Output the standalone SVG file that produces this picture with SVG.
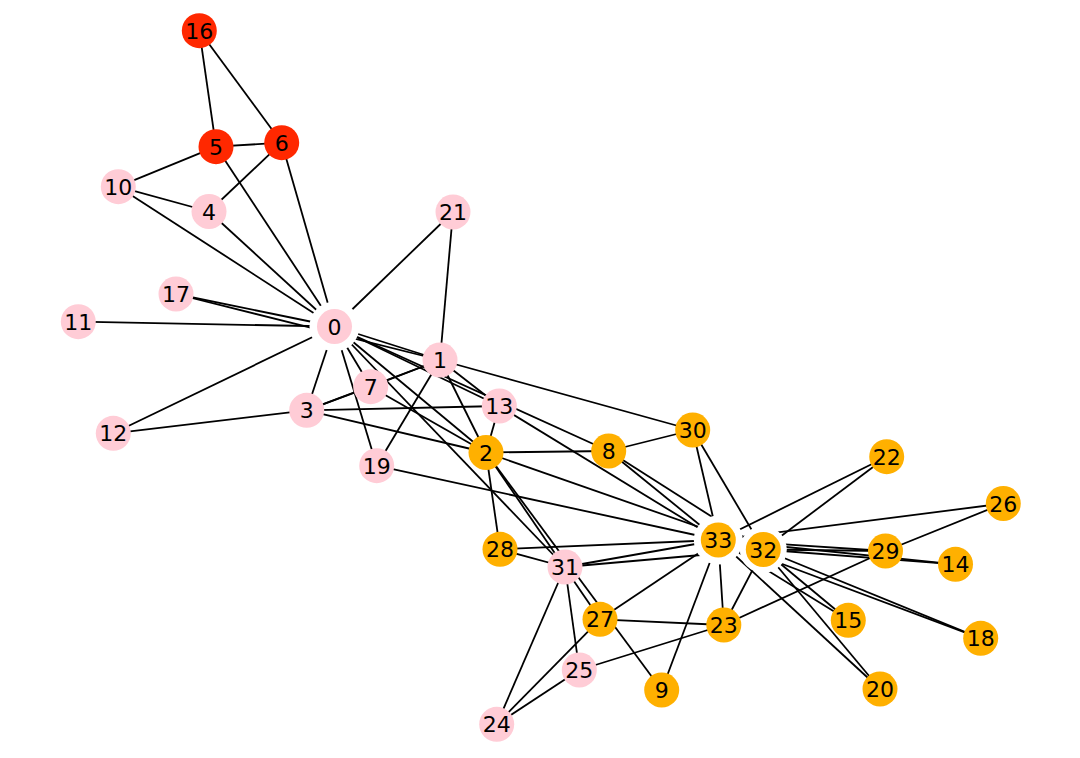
<svg xmlns="http://www.w3.org/2000/svg" width="1080" height="758" viewBox="0 0 1080 758">
<style>
.e line{stroke:#000;stroke-width:1.8;stroke-linecap:butt}
.halo{fill:#fff}
.n circle{stroke:none}
.p{fill:#FFCCD6}
.o{fill:#FFB000}
.r{fill:#FF2800}
.n text{font-family:"DejaVu Sans",sans-serif;font-size:22px;fill:#000;text-anchor:middle}
</style>
<rect width="1080" height="758" fill="#fff"/>
<g id="edges" class="e">
<line x1="334.5" y1="326.5" x2="440" y2="360"/>
<line x1="334.5" y1="326.5" x2="486" y2="452.5"/>
<line x1="334.5" y1="326.5" x2="306.7" y2="410.3"/>
<line x1="334.5" y1="326.5" x2="209" y2="211.5"/>
<line x1="334.5" y1="326.5" x2="216" y2="146.7"/>
<line x1="334.5" y1="326.5" x2="281.7" y2="142.7"/>
<line x1="334.5" y1="326.5" x2="370.7" y2="386.7"/>
<line x1="334.5" y1="326.5" x2="608.7" y2="451"/>
<line x1="334.5" y1="326.5" x2="118.3" y2="186.7"/>
<line x1="334.5" y1="326.5" x2="78.3" y2="321.7"/>
<line x1="334.5" y1="326.5" x2="113.3" y2="433.3"/>
<line x1="334.5" y1="326.5" x2="499.3" y2="406"/>
<line x1="334.5" y1="326.5" x2="176" y2="294"/>
<line x1="334.5" y1="326.5" x2="376.7" y2="465.7"/>
<line x1="334.5" y1="326.5" x2="453" y2="212"/>
<line x1="334.5" y1="326.5" x2="565" y2="567"/>
<line x1="440" y1="360" x2="486" y2="452.5"/>
<line x1="440" y1="360" x2="306.7" y2="410.3"/>
<line x1="440" y1="360" x2="370.7" y2="386.7"/>
<line x1="440" y1="360" x2="499.3" y2="406"/>
<line x1="440" y1="360" x2="176" y2="294"/>
<line x1="440" y1="360" x2="376.7" y2="465.7"/>
<line x1="440" y1="360" x2="453" y2="212"/>
<line x1="440" y1="360" x2="692.7" y2="430"/>
<line x1="486" y1="452.5" x2="306.7" y2="410.3"/>
<line x1="486" y1="452.5" x2="370.7" y2="386.7"/>
<line x1="486" y1="452.5" x2="608.7" y2="451"/>
<line x1="486" y1="452.5" x2="661.7" y2="690"/>
<line x1="486" y1="452.5" x2="499.3" y2="406"/>
<line x1="486" y1="452.5" x2="600" y2="619.3"/>
<line x1="486" y1="452.5" x2="500" y2="549.3"/>
<line x1="486" y1="452.5" x2="763.3" y2="549.5"/>
<line x1="306.7" y1="410.3" x2="370.7" y2="386.7"/>
<line x1="306.7" y1="410.3" x2="113.3" y2="433.3"/>
<line x1="306.7" y1="410.3" x2="499.3" y2="406"/>
<line x1="209" y1="211.5" x2="281.7" y2="142.7"/>
<line x1="209" y1="211.5" x2="118.3" y2="186.7"/>
<line x1="216" y1="146.7" x2="281.7" y2="142.7"/>
<line x1="216" y1="146.7" x2="118.3" y2="186.7"/>
<line x1="216" y1="146.7" x2="199.3" y2="30.7"/>
<line x1="281.7" y1="142.7" x2="199.3" y2="30.7"/>
<line x1="608.7" y1="451" x2="692.7" y2="430"/>
<line x1="608.7" y1="451" x2="763.3" y2="549.5"/>
<line x1="608.7" y1="451" x2="718.3" y2="540"/>
<line x1="661.7" y1="690" x2="718.3" y2="540"/>
<line x1="499.3" y1="406" x2="718.3" y2="540"/>
<line x1="955.5" y1="564.3" x2="763.3" y2="549.5"/>
<line x1="955.5" y1="564.3" x2="718.3" y2="540"/>
<line x1="848.3" y1="620.3" x2="763.3" y2="549.5"/>
<line x1="848.3" y1="620.3" x2="718.3" y2="540"/>
<line x1="980.7" y1="638.3" x2="763.3" y2="549.5"/>
<line x1="980.7" y1="638.3" x2="718.3" y2="540"/>
<line x1="376.7" y1="465.7" x2="718.3" y2="540"/>
<line x1="880" y1="689" x2="763.3" y2="549.5"/>
<line x1="880" y1="689" x2="718.3" y2="540"/>
<line x1="886.7" y1="456.7" x2="763.3" y2="549.5"/>
<line x1="886.7" y1="456.7" x2="718.3" y2="540"/>
<line x1="723.8" y1="625" x2="579.3" y2="670"/>
<line x1="723.8" y1="625" x2="600" y2="619.3"/>
<line x1="723.8" y1="625" x2="885.5" y2="551"/>
<line x1="723.8" y1="625" x2="763.3" y2="549.5"/>
<line x1="723.8" y1="625" x2="718.3" y2="540"/>
<line x1="496.7" y1="724.3" x2="579.3" y2="670"/>
<line x1="496.7" y1="724.3" x2="600" y2="619.3"/>
<line x1="496.7" y1="724.3" x2="565" y2="567"/>
<line x1="579.3" y1="670" x2="565" y2="567"/>
<line x1="1003.3" y1="503.5" x2="885.5" y2="551"/>
<line x1="1003.3" y1="503.5" x2="718.3" y2="540"/>
<line x1="600" y1="619.3" x2="718.3" y2="540"/>
<line x1="500" y1="549.3" x2="565" y2="567"/>
<line x1="500" y1="549.3" x2="718.3" y2="540"/>
<line x1="885.5" y1="551" x2="763.3" y2="549.5"/>
<line x1="885.5" y1="551" x2="718.3" y2="540"/>
<line x1="692.7" y1="430" x2="763.3" y2="549.5"/>
<line x1="692.7" y1="430" x2="718.3" y2="540"/>
<line x1="565" y1="567" x2="763.3" y2="549.5"/>
<line x1="565" y1="567" x2="718.3" y2="540"/>
<line x1="763.3" y1="549.5" x2="718.3" y2="540"/>
</g>
<g id="halos">
<circle class="halo" cx="334.5" cy="326.5" r="25"/>
<circle class="halo" cx="718.3" cy="540" r="24.5"/>
<circle class="halo" cx="763.3" cy="549.5" r="23.5"/>
</g>
<g id="node0" class="n"><circle class="p" cx="334.5" cy="326.5" r="17.5"/><text x="334.5" y="334.5">0</text></g>
<g id="node1" class="n"><circle class="p" cx="440" cy="360" r="17.5"/><text x="440" y="368">1</text></g>
<g id="node2" class="n"><circle class="o" cx="486" cy="452.5" r="17.5"/><text x="486" y="460.5">2</text></g>
<g id="node3" class="n"><circle class="p" cx="306.7" cy="410.3" r="17.5"/><text x="306.7" y="418.3">3</text></g>
<g id="node4" class="n"><circle class="p" cx="209" cy="211.5" r="17.5"/><text x="209" y="219.5">4</text></g>
<g id="node5" class="n"><circle class="r" cx="216" cy="146.7" r="17.5"/><text x="216" y="154.7">5</text></g>
<g id="node6" class="n"><circle class="r" cx="281.7" cy="142.7" r="17.5"/><text x="281.7" y="150.7">6</text></g>
<g id="node7" class="n"><circle class="p" cx="370.7" cy="386.7" r="17.5"/><text x="370.7" y="394.7">7</text></g>
<g id="node8" class="n"><circle class="o" cx="608.7" cy="451" r="17.5"/><text x="608.7" y="459">8</text></g>
<g id="node9" class="n"><circle class="o" cx="661.7" cy="690" r="17.5"/><text x="661.7" y="698">9</text></g>
<g id="node10" class="n"><circle class="p" cx="118.3" cy="186.7" r="17.5"/><text x="118.3" y="194.7">10</text></g>
<g id="node11" class="n"><circle class="p" cx="78.3" cy="321.7" r="17.5"/><text x="78.3" y="329.7">11</text></g>
<g id="node12" class="n"><circle class="p" cx="113.3" cy="433.3" r="17.5"/><text x="113.3" y="441.3">12</text></g>
<g id="node13" class="n"><circle class="p" cx="499.3" cy="406" r="17.5"/><text x="499.3" y="414">13</text></g>
<g id="node14" class="n"><circle class="o" cx="955.5" cy="564.3" r="17.5"/><text x="955.5" y="572.3">14</text></g>
<g id="node15" class="n"><circle class="o" cx="848.3" cy="620.3" r="17.5"/><text x="848.3" y="628.3">15</text></g>
<g id="node16" class="n"><circle class="r" cx="199.3" cy="30.7" r="17.5"/><text x="199.3" y="38.7">16</text></g>
<g id="node17" class="n"><circle class="p" cx="176" cy="294" r="17.5"/><text x="176" y="302">17</text></g>
<g id="node18" class="n"><circle class="o" cx="980.7" cy="638.3" r="17.5"/><text x="980.7" y="646.3">18</text></g>
<g id="node19" class="n"><circle class="p" cx="376.7" cy="465.7" r="17.5"/><text x="376.7" y="473.7">19</text></g>
<g id="node20" class="n"><circle class="o" cx="880" cy="689" r="17.5"/><text x="880" y="697">20</text></g>
<g id="node21" class="n"><circle class="p" cx="453" cy="212" r="17.5"/><text x="453" y="220">21</text></g>
<g id="node22" class="n"><circle class="o" cx="886.7" cy="456.7" r="17.5"/><text x="886.7" y="464.7">22</text></g>
<g id="node23" class="n"><circle class="o" cx="723.8" cy="625" r="17.5"/><text x="723.8" y="633">23</text></g>
<g id="node24" class="n"><circle class="p" cx="496.7" cy="724.3" r="17.5"/><text x="496.7" y="732.3">24</text></g>
<g id="node25" class="n"><circle class="p" cx="579.3" cy="670" r="17.5"/><text x="579.3" y="678">25</text></g>
<g id="node26" class="n"><circle class="o" cx="1003.3" cy="503.5" r="17.5"/><text x="1003.3" y="511.5">26</text></g>
<g id="node27" class="n"><circle class="o" cx="600" cy="619.3" r="17.5"/><text x="600" y="627.3">27</text></g>
<g id="node28" class="n"><circle class="o" cx="500" cy="549.3" r="17.5"/><text x="500" y="557.3">28</text></g>
<g id="node29" class="n"><circle class="o" cx="885.5" cy="551" r="17.5"/><text x="885.5" y="559">29</text></g>
<g id="node30" class="n"><circle class="o" cx="692.7" cy="430" r="17.5"/><text x="692.7" y="438">30</text></g>
<g id="node31" class="n"><circle class="p" cx="565" cy="567" r="17.5"/><text x="565" y="575">31</text></g>
<g id="node32" class="n"><circle class="o" cx="763.3" cy="549.5" r="17.5"/><text x="763.3" y="557.5">32</text></g>
<g id="node33" class="n"><circle class="o" cx="718.3" cy="540" r="17.5"/><text x="718.3" y="548">33</text></g>
</svg>
